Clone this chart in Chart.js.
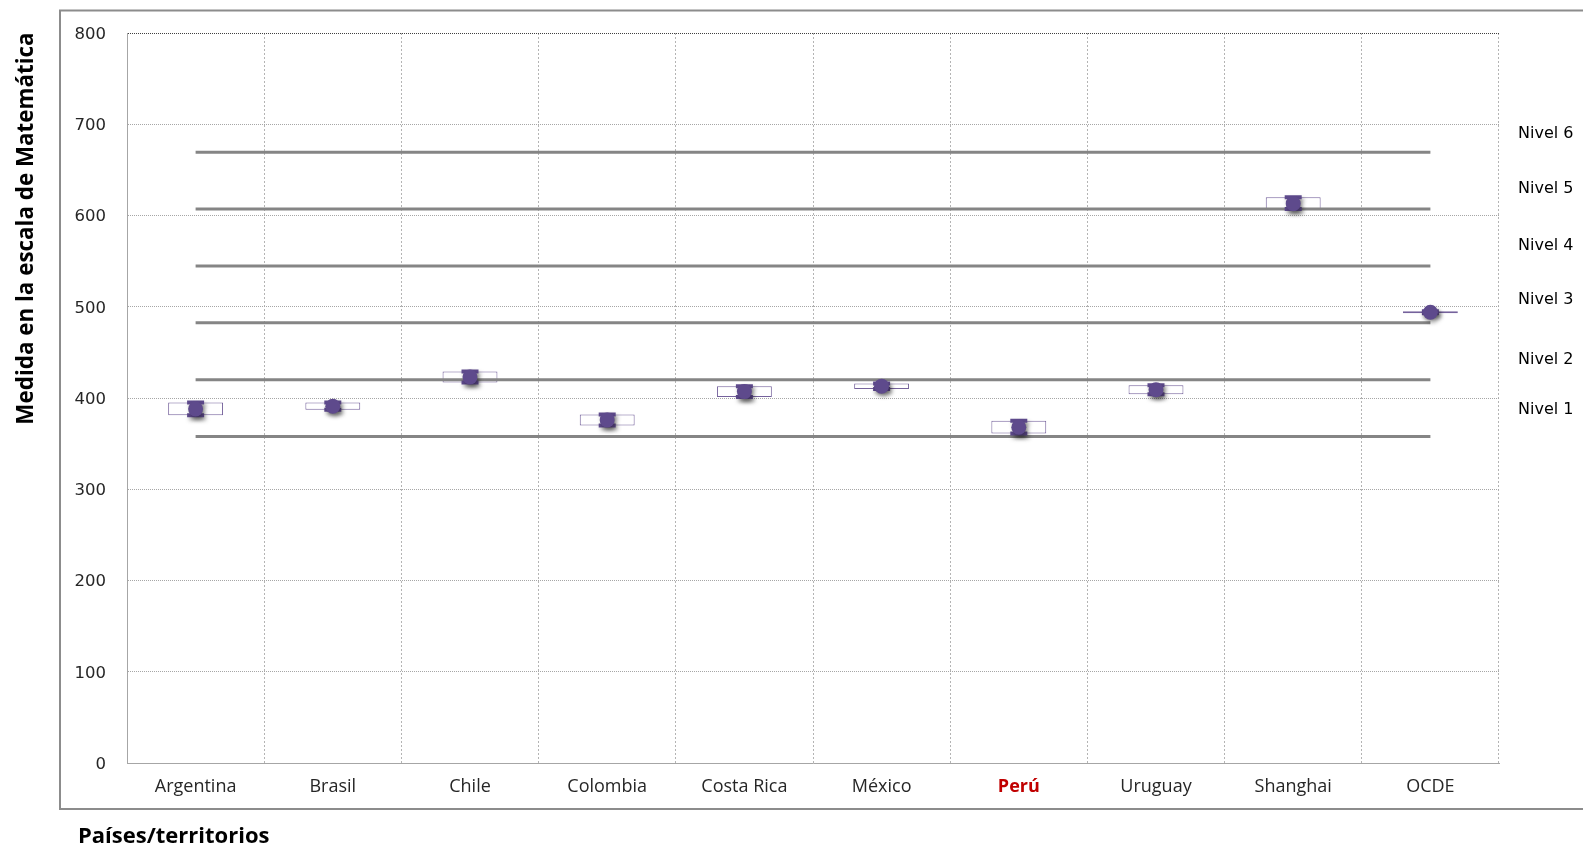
<!DOCTYPE html>
<html>
<head>
<meta charset="utf-8">
<script src="https://cdn.jsdelivr.net/npm/chart.js@4.4.1/dist/chart.umd.min.js"></script>
<style>
  html, body { margin: 0; padding: 0; background: #ffffff; }
  #wrap { width: 1583px; height: 848px; position: relative; }
  canvas { display: block; }
</style>
</head>
<body>
<div id="wrap"><canvas id="c" width="1583" height="848"></canvas></div>
<script>
// ---- data ----
const categories = ['Argentina', 'Brasil', 'Chile', 'Colombia', 'Costa Rica', 'México', 'Perú', 'Uruguay', 'Shanghai', 'OCDE'];
const means  = [388, 391, 423, 376, 407, 413, 368, 409, 613, 494];
const ciLow  = [381, 387, 417, 370, 401, 410, 361, 404, 607, 493];
const ciHigh = [395, 395, 429, 382, 413, 416, 375, 414, 620, 495];
const levelValues = [357.8, 420.1, 482.4, 544.7, 607.0, 669.3];
const levelLabels = ['Nivel 1', 'Nivel 2', 'Nivel 3', 'Nivel 4', 'Nivel 5', 'Nivel 6'];
const levelLabelValues = [389, 444, 509, 569, 631, 691];
const yTickValues = [0, 100, 200, 300, 400, 500, 600, 700, 800];
const yAxisTitle = 'Medida en la escala de Matemática';
const xAxisTitle = 'Países/territorios';
const highlightCategory = 'Perú';

const PURPLE = '#5E4A8C';
const BOX_BORDER = '#75629C';

const datasets = [];
// confidence boxes
datasets.push({
  type: 'bar', label: 'IC',
  data: categories.map((c, i) => [ciLow[i], ciHigh[i]]),
  backgroundColor: '#ffffff', borderColor: BOX_BORDER, borderWidth: 1,
  borderSkipped: false, barPercentage: 0.4, categoryPercentage: 1,
  grouped: false, order: 10
});
// level lines
levelValues.forEach((v, k) => {
  datasets.push({
    type: 'line', label: levelLabels[k],
    data: categories.map(() => v),
    borderColor: '#858585', borderWidth: 3, pointRadius: 0,
    fill: false, order: 8
  });
});
// stem of the marker
datasets.push({
  type: 'bar', label: 'stem', shadow: true,
  data: categories.map((c, i) => [ciLow[i], ciHigh[i]]),
  backgroundColor: PURPLE, borderWidth: 0, barThickness: 10,
  grouped: false, order: 3
});
// caps
[ciHigh, ciLow].forEach((arr, k) => {
  datasets.push({
    type: 'line', label: 'cap' + k, shadow: true,
    data: arr, showLine: false,
    pointStyle: 'line', pointRadius: 8.5, pointBorderWidth: 4,
    pointBorderColor: PURPLE, pointBackgroundColor: PURPLE, order: 2
  });
});
// mean point
datasets.push({
  type: 'line', label: 'media', shadow: true,
  data: means, showLine: false,
  pointStyle: 'circle', pointRadius: 7.5, pointBorderWidth: 0,
  pointBackgroundColor: PURPLE, pointBorderColor: PURPLE, order: 1
});

const shadowPlugin = {
  id: 'shadowPlugin',
  beforeDatasetDraw(chart, args) {
    const ds = chart.data.datasets[args.index];
    if (ds.shadow) {
      const ctx = chart.ctx;
      ctx.save();
      ctx.shadowColor = 'rgba(0,0,0,0.35)';
      ctx.shadowBlur = 4;
      ctx.shadowOffsetX = 2;
      ctx.shadowOffsetY = 3;
    }
  },
  afterDatasetDraw(chart, args) {
    const ds = chart.data.datasets[args.index];
    if (ds.shadow) chart.ctx.restore();
  }
};

const decorPlugin = {
  id: 'decor',
  beforeDraw(chart) {
    const ctx = chart.ctx;
    ctx.save();
    ctx.fillStyle = '#ffffff';
    ctx.fillRect(0, 0, chart.width, chart.height);
    ctx.strokeStyle = '#8C8C8C';
    ctx.lineWidth = 2;
    ctx.strokeRect(60, 10.5, 1600, 798.5);
    ctx.restore();
  },
  afterDraw(chart) {
    const ctx = chart.ctx;
    const y = chart.scales.y;
    ctx.save();
    // level labels
    ctx.fillStyle = '#000000';
    ctx.font = '16px "DejaVu Sans"';
    ctx.textAlign = 'left';
    ctx.textBaseline = 'alphabetic';
    levelLabels.forEach((t, k) => {
      ctx.fillText(t, 1518, y.getPixelForValue(levelLabelValues[k]) + 5.8);
    });
    // x axis title
    ctx.font = 'bold 22px "Open Sans"';
    ctx.fillStyle = '#000000';
    ctx.fillText(xAxisTitle, 78, 843);
    // y axis title
    ctx.translate(33, 228.5);
    ctx.rotate(-Math.PI / 2);
    ctx.textAlign = 'center';
    ctx.font = 'bold 22.4px "Open Sans"';
    ctx.fillText(yAxisTitle, 0, 0);
    ctx.restore();
  }
};

new Chart(document.getElementById('c'), {
  data: { labels: categories, datasets },
  options: {
    responsive: false,
    animation: false,
    layout: { padding: { left: 0, right: 84, top: 33, bottom: 0 } },
    plugins: { legend: { display: false }, tooltip: { enabled: false }, title: { display: false } },
    scales: {
      x: {
        type: 'category',
        offset: true,
        grid: { display: true, offset: true, drawTicks: false, color: '#B4B4B4', lineWidth: 1 },
        border: { display: true, color: '#A6A6A6', width: 1, dash: [2, 2] },
        ticks: {
          padding: 13,
          color: (c) => categories[c.index] === highlightCategory ? '#C00000' : '#262626',
          font: (c) => categories[c.index] === highlightCategory
            ? { family: '"Open Sans"', size: 18, weight: 'bold' }
            : { family: '"Open Sans"', size: 18 },
          maxRotation: 0, autoSkip: false
        },
        afterFit(scale) { scale.height = 85; }
      },
      y: {
        type: 'linear', min: 0, max: 800,
        afterBuildTicks(scale) { scale.ticks = yTickValues.map(v => ({ value: v })); },
        grid: {
          drawTicks: false, lineWidth: 1,
          color: (c) => (c.tick && c.tick.value === 800) ? '#404040' : '#A6A6A6'
        },
        border: { display: true, color: '#A6A6A6', width: 1, dash: [1, 1] },
        ticks: {
          padding: 21, color: '#262626', labelOffset: 1.5,
          font: { family: '"DejaVu Sans"', size: 16.5 }
        },
        afterFit(scale) { scale.width = 127; }
      }
    }
  },
  plugins: [shadowPlugin, decorPlugin]
});
</script>
</body>
</html>
